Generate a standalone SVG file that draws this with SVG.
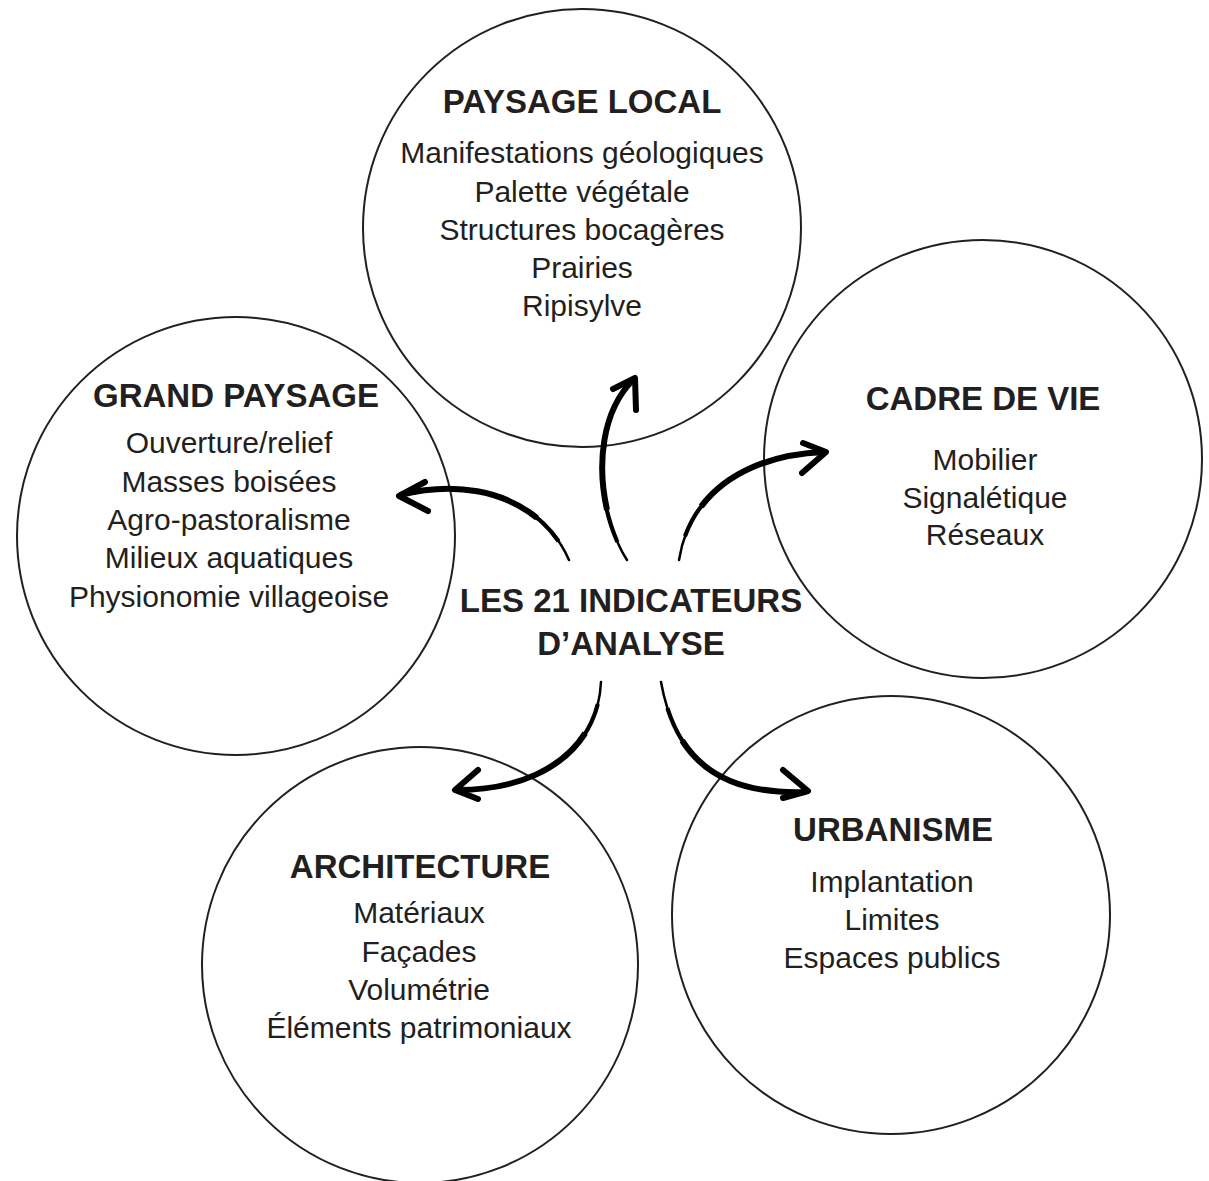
<svg xmlns="http://www.w3.org/2000/svg" width="1209" height="1181" viewBox="0 0 1209 1181">
<style>
.c{fill:none;stroke:#231f20;stroke-width:2}
.t{font-family:"Liberation Sans",Arial,sans-serif;font-weight:bold;font-size:33px;fill:#231f20;text-anchor:middle}
.i{font-family:"Liberation Sans",Arial,sans-serif;font-size:30px;fill:#231f20;text-anchor:middle}
.a1{fill:none;stroke:#000;stroke-width:2.5;stroke-linecap:round}
.a2{fill:none;stroke:#000;stroke-width:4.2;stroke-linecap:butt}
.a3{fill:none;stroke:#000;stroke-width:6;stroke-linecap:butt}
.h{fill:none;stroke:#000;stroke-width:6;stroke-linecap:round;stroke-linejoin:round}
</style>
<rect width="1209" height="1181" fill="#fff"/>
<g id="paysage-local">
<circle class="c" cx="582" cy="228" r="219"/>
<text class="t" x="582" y="113">PAYSAGE LOCAL</text>
<text class="i" x="582" y="163">Manifestations géologiques</text>
<text class="i" x="582" y="202">Palette végétale</text>
<text class="i" x="582" y="240">Structures bocagères</text>
<text class="i" x="582" y="278">Prairies</text>
<text class="i" x="582" y="316">Ripisylve</text>
</g>
<g id="grand-paysage">
<circle class="c" cx="236" cy="536" r="219"/>
<text class="t" x="236" y="407">GRAND PAYSAGE</text>
<text class="i" x="229" y="453">Ouverture/relief</text>
<text class="i" x="229" y="492">Masses boisées</text>
<text class="i" x="229" y="530">Agro-pastoralisme</text>
<text class="i" x="229" y="568">Milieux aquatiques</text>
<text class="i" x="229" y="607">Physionomie villageoise</text>
</g>
<g id="cadre-de-vie">
<circle class="c" cx="983" cy="459" r="219"/>
<text class="t" x="983" y="410">CADRE DE VIE</text>
<text class="i" x="985" y="470">Mobilier</text>
<text class="i" x="985" y="508">Signalétique</text>
<text class="i" x="985" y="545">Réseaux</text>
</g>
<g id="architecture">
<circle class="c" cx="420" cy="965" r="218"/>
<text class="t" x="420" y="878">ARCHITECTURE</text>
<text class="i" x="419" y="923">Matériaux</text>
<text class="i" x="419" y="962">Façades</text>
<text class="i" x="419" y="1000">Volumétrie</text>
<text class="i" x="419" y="1038">Éléments patrimoniaux</text>
</g>
<g id="urbanisme">
<circle class="c" cx="891" cy="915" r="219"/>
<text class="t" x="893" y="841">URBANISME</text>
<text class="i" x="892" y="892">Implantation</text>
<text class="i" x="892" y="930">Limites</text>
<text class="i" x="892" y="968">Espaces publics</text>
</g>
<g id="center">
<text class="t" x="631" y="612">LES 21 INDICATEURS</text>
<text class="t" x="631" y="655">D’ANALYSE</text>
</g>
<g id="connectors">
<g id="to-grand-paysage">
<path class="a1" d="M569,560 C545,505 480,475 400,495"/>
<path class="a2" d="M558.6,541.3 C529.2,498.5 470.4,477.4 400,495"/>
<path class="a3" d="M537,518 C504.6,491.5 456,481 400,495"/>
<path class="h" d="M425,482 L399,496 L428,511"/>
</g>
<g id="to-paysage-local">
<path class="a1" d="M627,560 C598,515 588,425 633,380"/>
<path class="a2" d="M617.4,542 C596.4,494 593.4,419.6 633,380"/>
<path class="a3" d="M607,509.8 C596.95,465.05 601.5,411.5 633,380"/>
<path class="h" d="M613,389 L635,378 L636,410"/>
</g>
<g id="to-cadre-de-vie">
<path class="a1" d="M679,560 C690,490 750,455 824,452"/>
<path class="a2" d="M685,536.3 C704.6,482.1 758.9,454.6 824,452"/>
<path class="a3" d="M701.2,506.4 C727.3,471.9 772.2,454.1 824,452"/>
<path class="h" d="M803,443 L826,452 L802,473"/>
</g>
<g id="to-architecture">
<path class="a1" d="M601,682 C598,745 545,790 457,790"/>
<path class="a2" d="M597.8,703.9 C584.8,755.2 534.4,790 457,790"/>
<path class="a3" d="M585.2,733.1 C563.05,767.95 518.6,790 457,790"/>
<path class="h" d="M478,770 L455,790 L478,799"/>
</g>
<g id="to-urbanisme">
<path class="a1" d="M661,682 C675,760 720,795 806,792"/>
<path class="a2" d="M667.4,708.2 C686.4,767.9 730.3,794.6 806,792"/>
<path class="a3" d="M682.2,740.7 C705.7,777.6 745.8,794.1 806,792"/>
<path class="h" d="M783,770 L808,791 L783,798"/>
</g>
</g>
</svg>
